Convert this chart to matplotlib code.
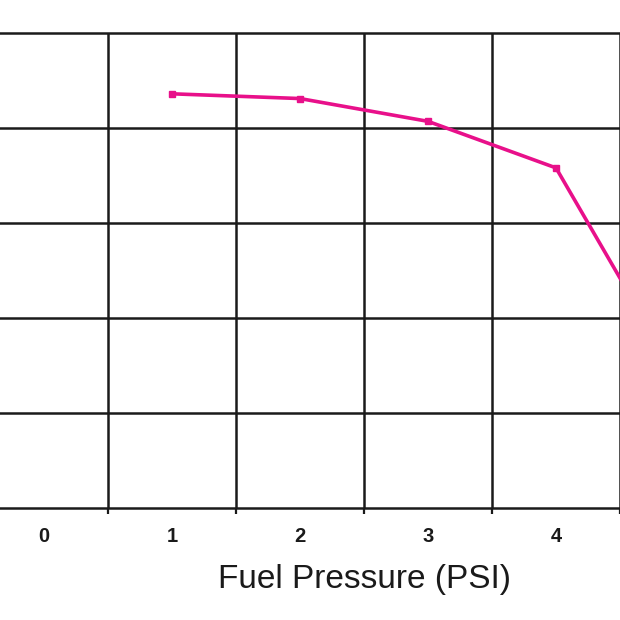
import matplotlib.pyplot as plt
from matplotlib.ticker import FixedLocator

# fuel pressure categories and the plotted values
pressure = [0, 1, 2, 3, 4]
flow_psi = [1, 2, 3, 4, 5]
flow = [43.6, 43.1, 40.7, 35.8, 12.6]

plt.rcParams['font.family'] = ['Liberation Sans', 'DejaVu Sans']

fig = plt.figure(figsize=(6.2, 6.2), dpi=100)
# the chart is cropped, so the axes run past the left and right edges
ax = fig.add_axes([-20 / 620, 112 / 620, 768 / 620, 475 / 620])

ax.plot(flow_psi, flow, color="#e8108a", linewidth=2.6, marker="s",
        markersize=5, zorder=3)

ax.set_xlim(-0.5, 5.5)
ax.set_ylim(0, 50)

ax.xaxis.set_major_locator(FixedLocator(pressure))
ax.xaxis.set_minor_locator(FixedLocator([p + 0.5 for p in range(6)]))
ax.set_xticklabels([str(p) for p in pressure], fontsize=14.5, fontweight="bold")
ax.tick_params(axis="x", which="major", length=0, pad=14, colors="#1a1a1a")
ax.tick_params(axis="x", which="minor", length=4.5, width=1.6, color="#1a1a1a")
ax.grid(True, axis="x", which="minor", color="#1a1a1a", linewidth=1.8)

ax.set_yticks([10, 20, 30, 40])
ax.tick_params(axis="y", length=0, labelleft=False)
ax.grid(True, axis="y", which="major", color="#1a1a1a", linewidth=1.8)

for s in ax.spines.values():
    s.set_color("#1a1a1a")
    s.set_linewidth(1.8)

ax.set_xlabel("Fuel Pressure (PSI)", fontsize=24, color="#1a1a1a")
ax.xaxis.set_label_coords(0.501, -0.118)

fig.savefig("out.png", dpi=100)
